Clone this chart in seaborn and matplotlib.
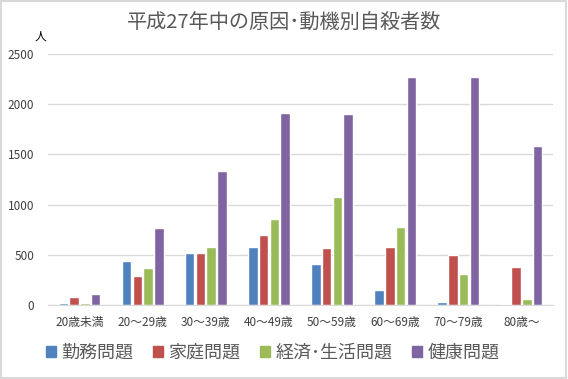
"""
平成27年中の原因・動機別自殺者数 — grouped bar chart by age band.
"""

import matplotlib
matplotlib.use("Agg")
import matplotlib.pyplot as plt
import pandas as pd
import seaborn as sns
from matplotlib.patches import Rectangle

# -----------------------------------------------------------------------------
# Data
# -----------------------------------------------------------------------------
age_groups = ["20歳未満", "20～29歳", "30～39歳", "40～49歳",
              "50～59歳", "60～69歳", "70～79歳", "80歳～"]
causes = ["勤務問題", "家庭問題", "経済･生活問題", "健康問題"]

work = [20, 440, 520, 580, 410, 150, 30, 10]
family = [80, 290, 520, 700, 570, 580, 500, 380]
economy = [20, 370, 580, 860, 1080, 780, 310, 60]
health = [110, 770, 1330, 1910, 1900, 2270, 2270, 1580]

colors = ["#4F81BD", "#C0504D", "#9BBB59", "#8064A2"]

df = pd.DataFrame({"age": age_groups, causes[0]: work, causes[1]: family,
                   causes[2]: economy, causes[3]: health})
long = df.melt(id_vars="age", var_name="cause", value_name="count")

# -----------------------------------------------------------------------------
# Plot
# -----------------------------------------------------------------------------
sns.set_style("white")
plt.rcParams["font.family"] = ["Noto Sans CJK JP", "DejaVu Sans"]

fig = plt.figure(figsize=(5.68, 3.79), dpi=100)
ax = fig.add_axes([48 / 568, 1 - 305 / 379, 505 / 568, 251 / 379])

sns.barplot(data=long, x="age", y="count", hue="cause", order=age_groups,
            hue_order=causes, palette=colors, width=0.68, gap=0.12,
            saturation=1, ax=ax, legend=True)

ax.set_ylim(0, 2500)
ax.set_yticks(range(0, 2501, 500))
ax.set_xlim(-0.5, len(age_groups) - 0.5)
ax.yaxis.grid(True, color="#D9D9D9", linewidth=1)
ax.set_axisbelow(True)
for side in ["left", "right", "top"]:
    ax.spines[side].set_visible(False)
ax.spines["bottom"].set_color("#D9D9D9")
ax.tick_params(axis="both", length=0, colors="#404040")
ax.tick_params(axis="y", labelsize=8.5, pad=10)
ax.tick_params(axis="x", labelsize=8.5, pad=8)
ax.set_xlabel("")
ax.set_ylabel("")

ax.legend_.remove()
handles = [Rectangle((0, 0), 1, 1, color=c) for c in colors]
fig.legend(handles, causes, loc="center", bbox_to_anchor=(0.48, 1 - 353 / 379),
           ncol=4, frameon=False, fontsize=13, handlelength=0.55,
           handleheight=0.55, handletextpad=0.3, columnspacing=1.1,
           labelcolor="#595959")

fig.text(0.5, 1 - 22 / 379, "平成27年中の原因･動機別自殺者数", ha="center",
         va="center", fontsize=14.5, color="#595959")
fig.text(40 / 568, 1 - 36 / 379, "人", ha="center", va="center",
         fontsize=8.5, color="#000000")

# light gray frame around the chart area
fig.patches.append(Rectangle((0.002, 0.003), 0.995, 0.994, transform=fig.transFigure,
                             fill=False, edgecolor="#D9D9D9", linewidth=1.5))

fig.savefig("out.png", dpi=100)
